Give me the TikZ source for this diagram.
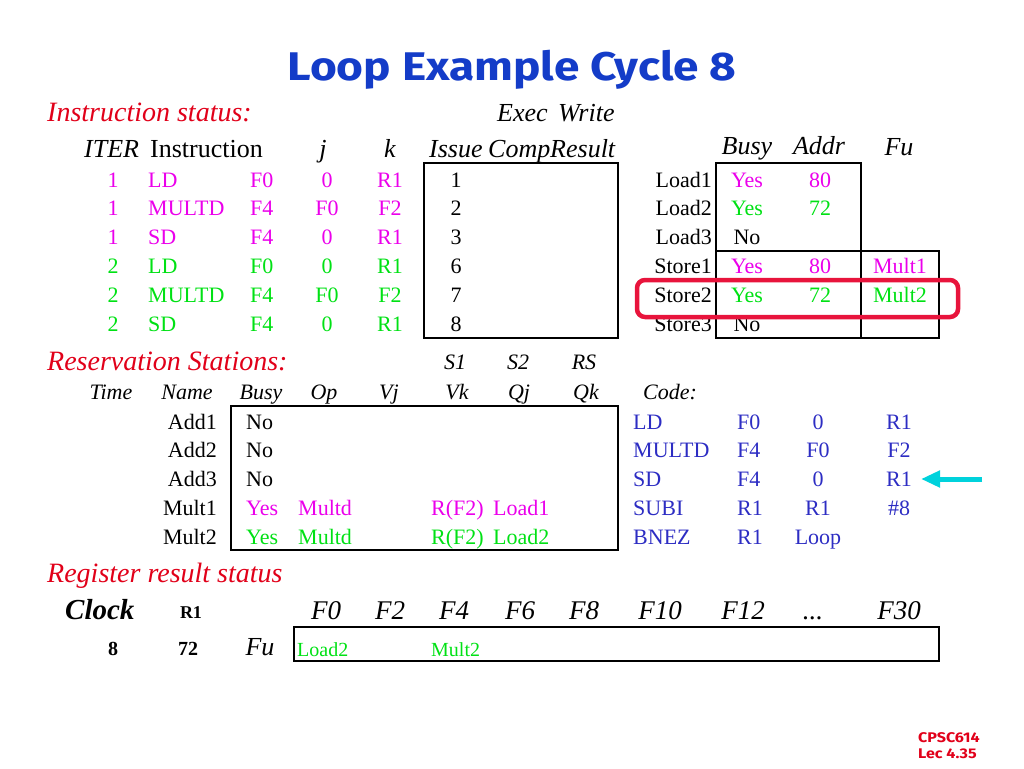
\documentclass[tikz,border=0pt]{standalone}
\usepackage{fontspec}
\setmainfont{Liberation Serif}
\newfontfamily\titlefont[FakeStretch=1.15]{Fira Sans}
\usepackage{tikz}
\usetikzlibrary{arrows.meta}
\usetikzlibrary{calc}
\usetikzlibrary{math}
\usetikzlibrary{positioning}
\definecolor{titleblue}{RGB}{20,60,200}
\definecolor{labelred}{RGB}{225,0,25}
\definecolor{boxred}{RGB}{232,20,60}
\definecolor{iterone}{RGB}{235,0,235}
\definecolor{itertwo}{RGB}{0,225,20}
\definecolor{codeblue}{RGB}{45,45,195}
\definecolor{pointcyan}{RGB}{0,210,220}
\newcommand{\threedots}{...}

\begin{document}
\begin{tikzpicture}[x=1pt,y=-1pt]
	\tikzset{
		txt/.style={inner sep=0,anchor=base,font=\fontsize{22}{24}\selectfont},
		ltxt/.style={txt,anchor=base west},
		rtxt/.style={txt,anchor=base east},
		head/.style={txt,font=\fontsize{26}{28}\selectfont\itshape},
		lhead/.style={head,anchor=base west},
		smallhead/.style={txt,font=\fontsize{22}{24}\selectfont\itshape},
		section/.style={ltxt,text=labelred,font=\fontsize{28}{30}\selectfont\itshape},
		regname/.style={txt,font=\fontsize{27}{29}\selectfont\itshape},
		regval/.style={ltxt,text=itertwo,font=\fontsize{20}{22}\selectfont},
		clockval/.style={txt,font=\fontsize{20}{22}\selectfont\bfseries},
		tablebox/.style={draw=black,line width=1.4pt},
		highlight/.style={draw=boxred,line width=4.5pt,rounded corners=8pt},
		pointer/.style={draw=pointcyan,line width=5pt,-{Triangle[length=19pt,width=16pt]}},
		corner/.style={anchor=base west,inner sep=0,text=labelred,font=\titlefont\bfseries\fontsize{14}{15}\selectfont}
	}
	\useasboundingbox (0,0) rectangle (1024,768);
	\tikzmath{\rowstep = 28.8;}
	
	\node[anchor=base,inner sep=0,text=titleblue,font=\titlefont\bfseries\fontsize{40}{42}\selectfont] (title) at (512,80) {Loop Example Cycle 8};
	
	% instruction status
	\node[section] (instlabel) at (47,121) {Instruction status:};
	\node[lhead] (exec) at (497,121) {Exec};
	\node[lhead] (write) at (558,121) {Write};
	\node[lhead] (hiter) at (84,157) {ITER};
	\node[ltxt,font=\fontsize{26}{28}\selectfont] (hinst) at (150,157) {Instruction};
	\node[head] (hj) at (323,157) {j};
	\node[head] (hk) at (390,157) {k};
	\node[lhead] (hissue) at (429,157) {Issue};
	\node[lhead] (hcomp) at (488,157) {Comp};
	\node[lhead] (hresult) at (550,157) {Result};
	
	\foreach \r/\iter/\op/\dst/\srcj/\srck/\iss/\clr in {1/1/LD/F0/0/R1/1/iterone, 2/1/MULTD/F4/F0/F2/2/iterone, 3/1/SD/F4/0/R1/3/iterone, 4/2/LD/F0/0/R1/6/itertwo, 5/2/MULTD/F4/F0/F2/7/itertwo, 6/2/SD/F4/0/R1/8/itertwo}{
		\tikzmath{\yb = 187 + (\r-1)*\rowstep;}
		\node[txt,text=\clr] (iter\r) at (113,\yb) {\iter};
		\node[ltxt,text=\clr] (op\r) at (148,\yb) {\op};
		\node[ltxt,text=\clr] (dst\r) at (250,\yb) {\dst};
		\node[txt,text=\clr] (srcj\r) at (327,\yb) {\srcj};
		\node[txt,text=\clr] (srck\r) at (390,\yb) {\srck};
		\node[txt] (issue\r) at (456,\yb) {\iss};
	}
	\draw[tablebox] (424,163) rectangle (618,338);
	
	% load and store buffers
	\node[head] (hbusy) at (747,154) {Busy};
	\node[head] (haddr) at (819,154) {Addr};
	\node[head] (hfu) at (899,155) {Fu};
	\foreach \r/\name/\busy/\addr/\fu/\clr in {1/Load1/Yes/80//iterone, 2/Load2/Yes/72//itertwo, 3/Load3/No///black, 4/Store1/Yes/80/Mult1/iterone, 5/Store2/Yes/72/Mult2/itertwo, 6/Store3/No///black}{
		\tikzmath{\yb = 187 + (\r-1)*\rowstep;}
		\node[rtxt] (buf\r) at (712,\yb) {\name};
		\node[txt,text=\clr] (bufbusy\r) at (747,\yb) {\busy};
		\node[txt,text=\clr] (bufaddr\r) at (820,\yb) {\addr};
		\node[txt,text=\clr] (buffu\r) at (900,\yb) {\fu};
	}
	\draw[tablebox] (716,163) rectangle (861,338);
	\draw[tablebox] (861,251) rectangle (939,338);
	\draw[tablebox] (716,251) -- (861,251);
	\draw[highlight] (637,280) rectangle (958,317);
	
	% reservation stations
	\node[section] (rslabel) at (47,370) {Reservation Stations:};
	\foreach \x/\txt in {455/S1, 518/S2, 584/RS}
		\node[smallhead] (top\txt) at (\x,369) {\txt};
	\foreach \x/\txt in {111/Time, 187/Name, 261/Busy, 324/Op, 389/Vj, 457/Vk, 519/Qj, 586/Qk}
		\node[smallhead] (rs\txt) at (\x,399) {\txt};
	\foreach \r/\name/\busy/\op/\vk/\qj/\clr in {1/Add1/No////black, 2/Add2/No////black, 3/Add3/No////black, 4/Mult1/Yes/Multd/R(F2)/Load1/iterone, 5/Mult2/Yes/Multd/R(F2)/Load2/itertwo}{
		\tikzmath{\yb = 429 + (\r-1)*\rowstep;}
		\node[rtxt] (rs\r) at (217,\yb) {\name};
		\node[ltxt,text=\clr] (rsbusy\r) at (246,\yb) {\busy};
		\node[ltxt,text=\clr] (rsop\r) at (298,\yb) {\op};
		\node[ltxt,text=\clr] (rsvk\r) at (431,\yb) {\vk};
		\node[ltxt,text=\clr] (rsqj\r) at (493,\yb) {\qj};
	}
	\draw[tablebox] (231,406) rectangle (618,550);
	
	% code
	\node[smallhead,anchor=base west] (code) at (643,399) {Code:};
	\foreach \r/\op/\a/\b/\c in {1/LD/F0/0/R1, 2/MULTD/F4/F0/F2, 3/SD/F4/0/R1, 4/SUBI/R1/R1/\#8, 5/BNEZ/R1/Loop/}{
		\tikzmath{\yb = 429 + (\r-1)*\rowstep;}
		\node[ltxt,text=codeblue] (cop\r) at (633,\yb) {\op};
		\node[ltxt,text=codeblue] (ca\r) at (737,\yb) {\a};
		\node[txt,text=codeblue] (cb\r) at (818,\yb) {\b};
		\node[txt,text=codeblue] (cc\r) at (899,\yb) {\c};
	}
	\coordinate (arrowtail) at (982,479);
	\coordinate (arrowtip) at (921,479);
	\draw[pointer] (arrowtail) -- (arrowtip);
	
	% register result status
	\node[section] (reglabel) at (47,582) {Register result status};
	\node[ltxt,font=\fontsize{29}{31}\selectfont\bfseries\itshape] (clock) at (65,619) {Clock};
	\node[txt,font=\fontsize{18}{20}\selectfont\bfseries] (rone) at (191,618) {R1};
	\foreach \x/\nm/\txt in {326/F0/F0, 390/F2/F2, 454/F4/F4, 520/F6/F6, 584/F8/F8, 660/F10/F10, 743/F12/F12, 813/dots/\threedots, 899/F30/F30}
		\node[regname] (reg\nm) at (\x,619) {\txt};
	\node[clockval] (clockval) at (113,655) {8};
	\node[clockval] (ronevalue) at (188,655) {72};
	\node[head] (regfu) at (260,655) {Fu};
	\draw[tablebox] (294,627) rectangle (939,661);
	\node[regval] (fuF0) at (297,656) {Load2};
	\node[regval] (fuF4) at (431,656) {Mult2};
	
	\node[corner] (course) at (918,742) {CPSC614};
	\node[corner] (lecture) at (918,758) {Lec 4.35};
\end{tikzpicture}
\end{document}
